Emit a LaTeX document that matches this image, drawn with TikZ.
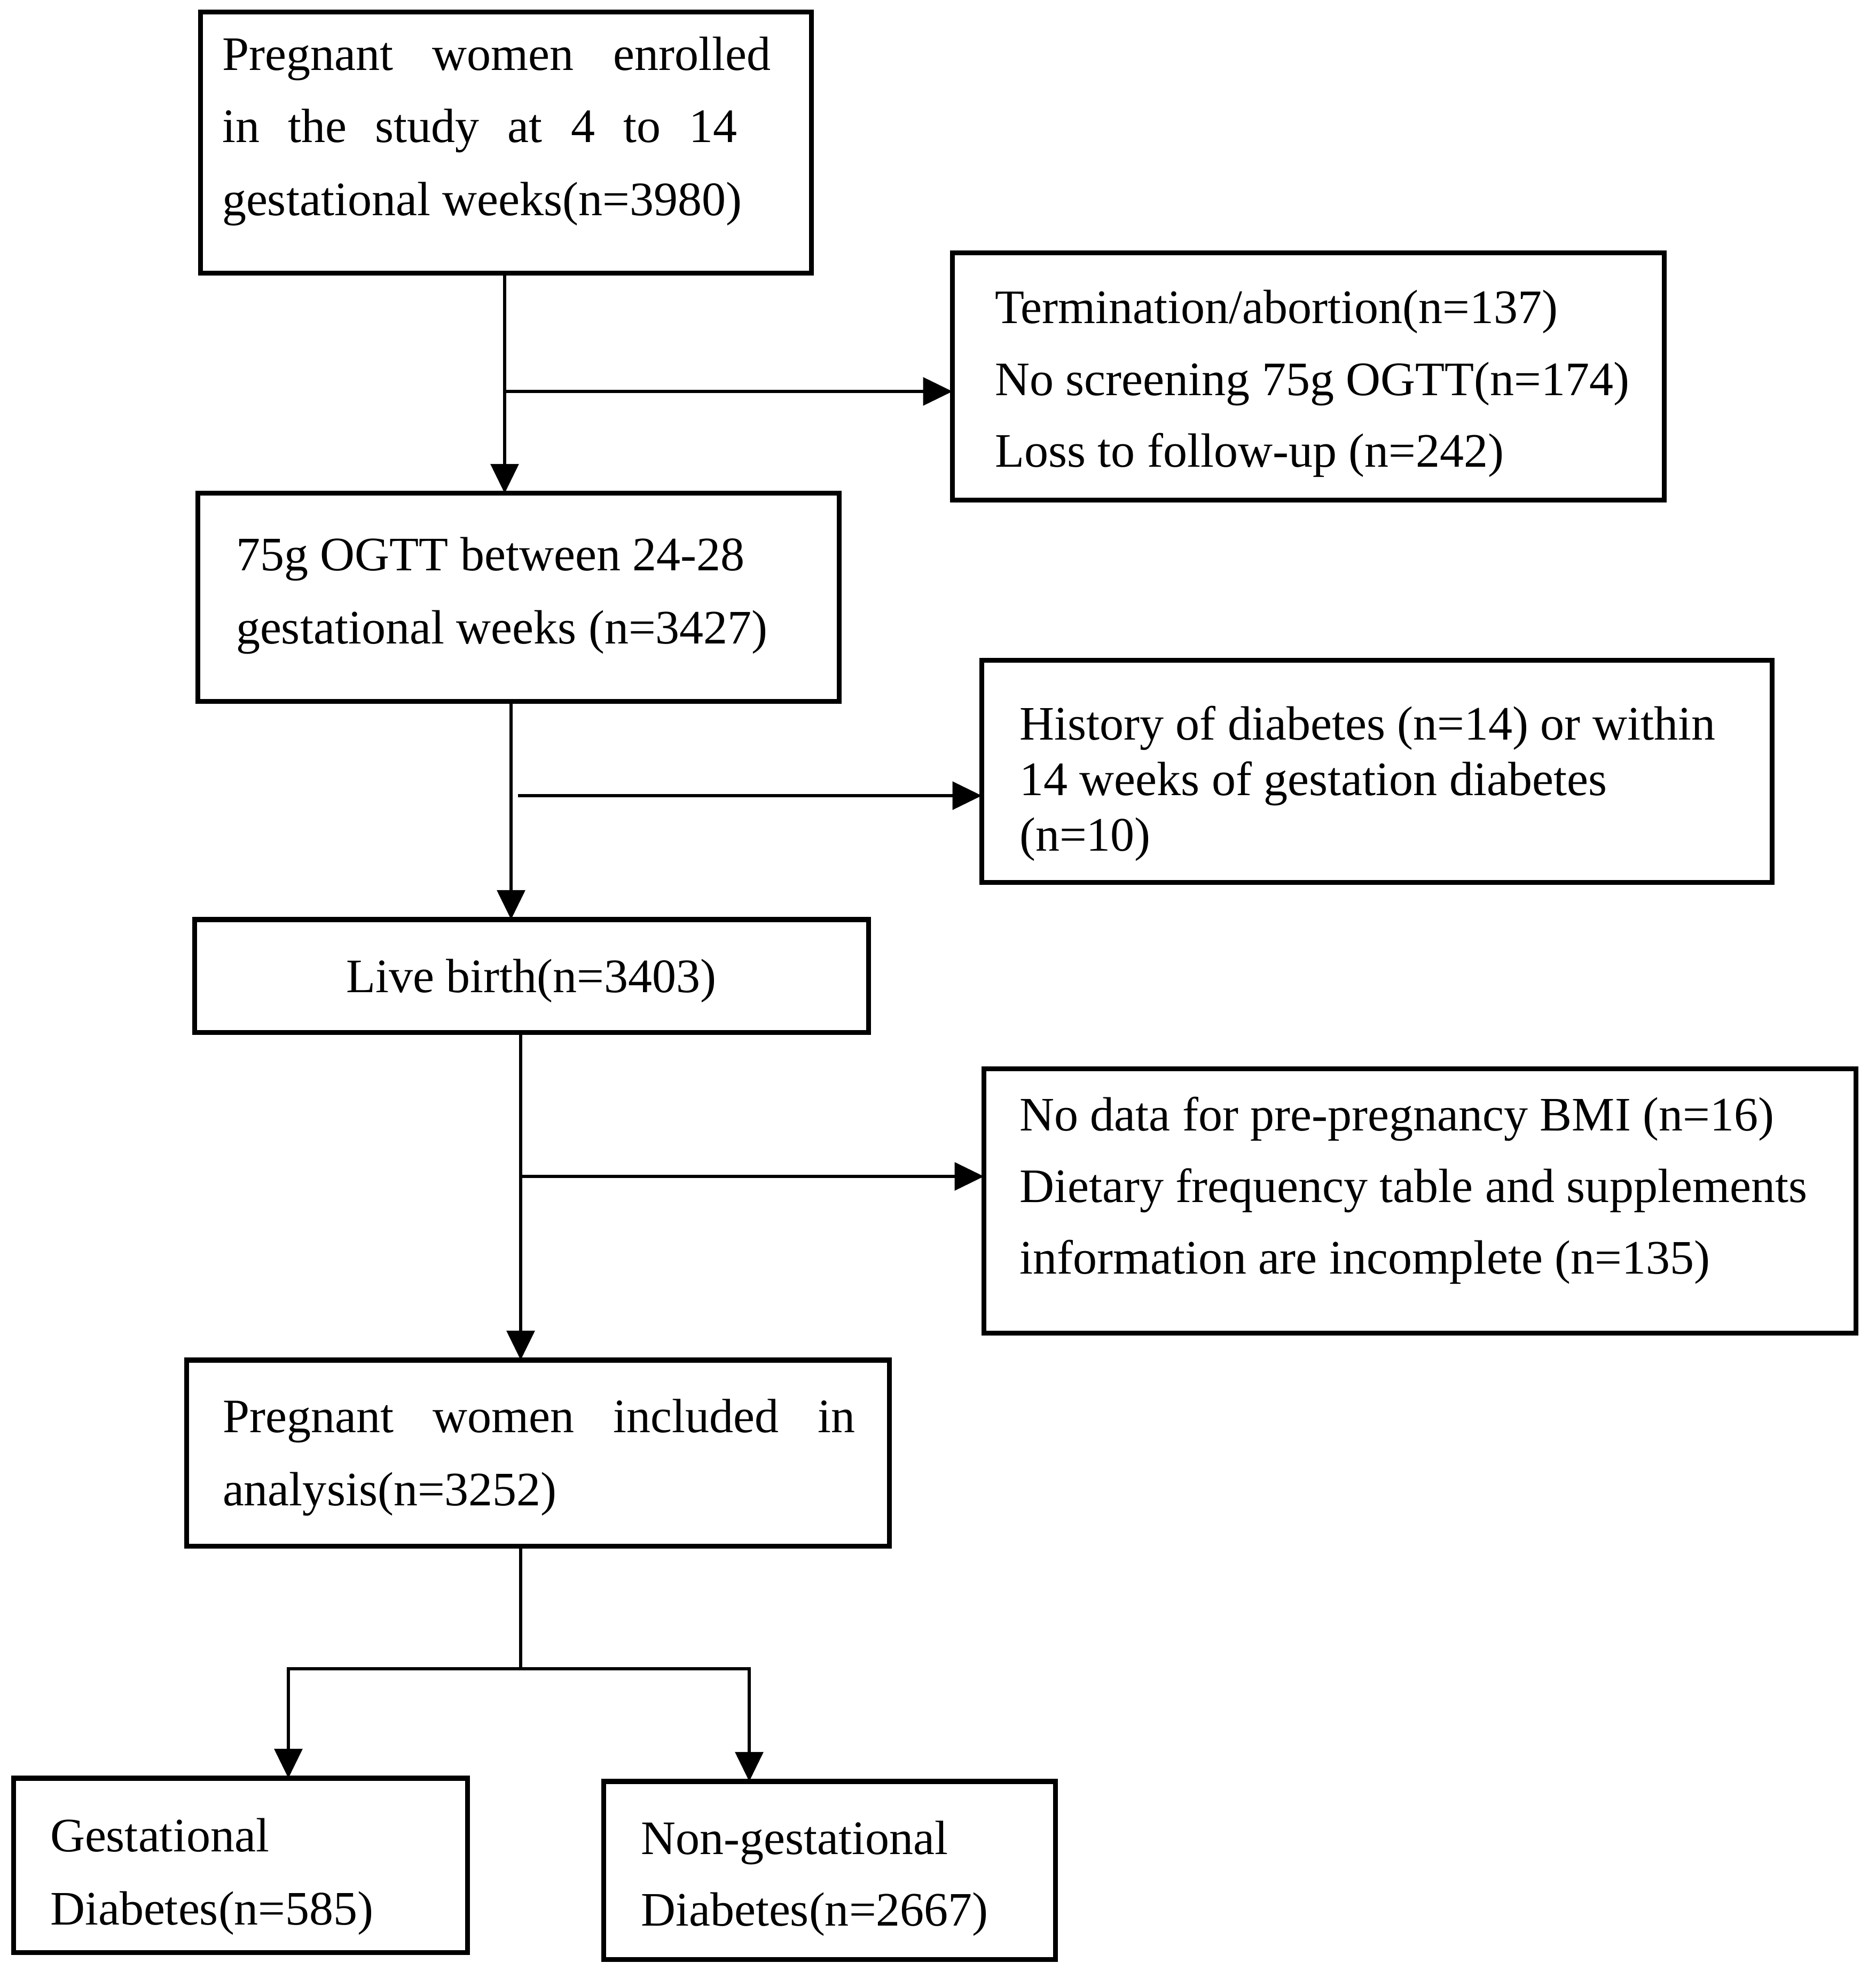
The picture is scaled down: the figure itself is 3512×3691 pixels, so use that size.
\documentclass[tikz,border=0pt]{standalone}
\usepackage{fontspec}
\setmainfont{Liberation Serif}
\usetikzlibrary{arrows.meta}
\begin{document}
\begin{tikzpicture}[x=0.01cm,y=-0.01cm,
  box/.style={draw=black, line width=2.6pt, rectangle, inner sep=0pt, outer sep=0pt},
  txt/.style={inner sep=0pt, outer sep=0pt, anchor=base west, font=\fontsize{25.6}{30}\selectfont},
  arr/.style={line width=1.8pt, -{Triangle[length=0.55cm,width=0.52cm]}},
  ln/.style={line width=1.8pt}]
\useasboundingbox (0,0) rectangle (3512,3691);
% boxes
\node[box, minimum width=11.43cm, minimum height=4.88cm] (b1) at (947.5,267) {};
\node[box, minimum width=13.32cm, minimum height=4.62cm] (b2) at (2450,705) {};
\node[box, minimum width=12.00cm, minimum height=3.89cm] (b3) at (971,1118.5) {};
\node[box, minimum width=14.79cm, minimum height=4.15cm] (b4) at (2578.5,1444.5) {};
\node[box, minimum width=12.61cm, minimum height=2.11cm] (b5) at (995.5,1827.5) {};
\node[box, minimum width=16.32cm, minimum height=4.94cm] (b6) at (2659,2249) {};
\node[box, minimum width=13.15cm, minimum height=3.48cm] (b7) at (1007.5,2721) {};
\node[box, minimum width=8.49cm, minimum height=3.26cm] (b8) at (450.5,3493) {};
\node[box, minimum width=8.45cm, minimum height=3.33cm] (b9) at (1553.5,3502.5) {};
% texts
\node[txt] (t1a) at (416,132) {\hbox to 10.27cm{Pregnant\hfill women\hfill enrolled}};
\node[txt] (t1b) at (416,267) {\hbox to 9.64cm{in\hfill the\hfill study\hfill at\hfill 4\hfill to\hfill 14}};
\node[txt] (t1c) at (416,403) {gestational weeks(n=3980)};
\node[txt] (t2a) at (1863,605) {Termination/abortion(n=137)};
\node[txt] (t2b) at (1863,740) {No screening 75g OGTT(n=174)};
\node[txt] (t2c) at (1863,874) {Loss to follow-up (n=242)};
\node[txt] (t3a) at (442,1068) {75g OGTT between 24-28};
\node[txt] (t3b) at (442,1205) {gestational weeks (n=3427)};
\node[txt] (t4a) at (1909,1385) {History of diabetes (n=14) or within};
\node[txt] (t4b) at (1909,1489) {14 weeks of gestation diabetes};
\node[txt] (t4c) at (1909,1593) {(n=10)};
\node[txt, anchor=base] (t5a) at (995,1858) {Live birth(n=3403)};
\node[txt] (t6a) at (1909,2117) {No data for pre-pregnancy BMI (n=16)};
\node[txt] (t6b) at (1909,2251) {Dietary frequency table and supplements};
\node[txt] (t6c) at (1909,2385) {information are incomplete (n=135)};
\node[txt] (t7a) at (417,2682) {\hbox to 11.84cm{Pregnant\hfill women\hfill included\hfill in}};
\node[txt] (t7b) at (417,2819) {analysis(n=3252)};
\node[txt] (t8a) at (94,3467) {Gestational};
\node[txt] (t8b) at (94,3604) {Diabetes(n=585)};
\node[txt] (t9a) at (1200,3472) {Non-gestational};
\node[txt] (t9b) at (1200,3606) {Diabetes(n=2667)};
% junctions
\coordinate (j1) at (945,733);
\coordinate (j2) at (957,1490);
\coordinate (s2) at (970,1490);
\coordinate (j3) at (975,2203);
\coordinate (j4) at (975,3125);
\coordinate (jl) at (540,3125);
\coordinate (jr) at (1403,3125);
% connectors
\draw[arr] (b1.south -| j1) -- (b3.north -| j1);
\draw[arr] (j1) -- (b2.west |- j1);
\draw[arr] (b3.south -| j2) -- (b5.north -| j2);
\draw[arr] (s2) -- (b4.west |- s2);
\draw[arr] (b5.south -| j3) -- (b7.north -| j3);
\draw[arr] (j3) -- (b6.west |- j3);
\draw[ln] (b7.south -| j4) -- (j4);
\draw[arr] (j4) -- (jl) -- (b8.north -| jl);
\draw[arr] (j4) -- (jr) -- (b9.north -| jr);
\end{tikzpicture}
\end{document}
